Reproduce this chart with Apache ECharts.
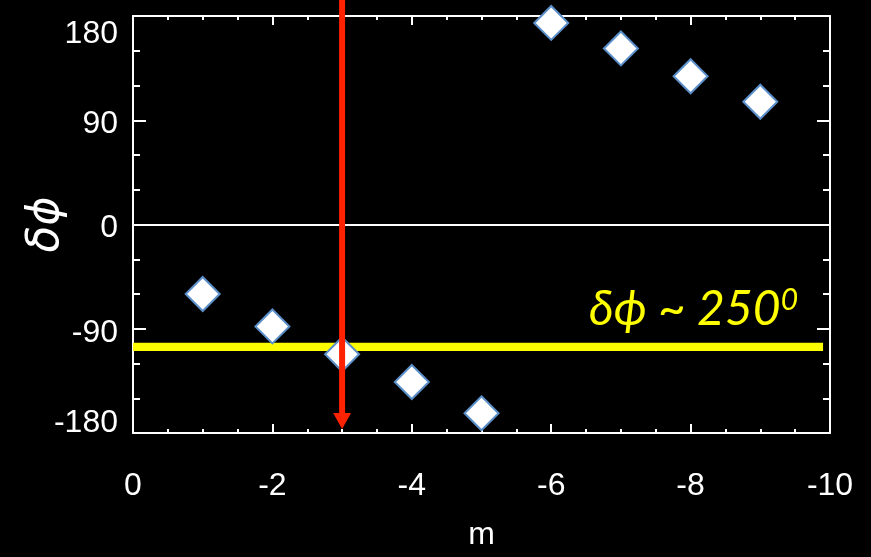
<!DOCTYPE html>
<html><head><meta charset="utf-8">
<script src="https://cdn.jsdelivr.net/npm/echarts@6/dist/echarts.min.js"></script>
<style>html,body{margin:0;padding:0;background:#000}#c{width:871px;height:557px}</style>
</head><body><div id="c"></div>
<script>
// Data
const mValues = [-1, -2, -3, -4, -5, -6, -7, -8, -9];
const dPhiValues = [-60, -88, -112, -136, -163, 174, 152, 128, 106];
const xTickLabels = ['0', '-2', '-4', '-6', '-8', '-10'];
const yTickLabels = ['-180', '-90', '0', '90', '180'];
const refPhase = -105.5;       // yellow reference line (δϕ ~ 250°)
const refLineM = [0, -9.9];    // extent of yellow line in m
const arrowM = -3;             // red arrow position
const arrowFrom = 196;         // red arrow top (value)
const arrowTo = -176.5;        // red arrow tip (value)

const chart = echarts.init(document.getElementById('c'), null, {renderer: 'canvas'});
const FONT = 'Liberation Sans';
const FS = 32;
const WHITE = '#ffffff';

const pts = mValues.map((m, i) => [m, dPhiValues[i]]);

function axisBase(extra) {
  return Object.assign({
    axisLine: {show: true, onZero: false, lineStyle: {color: WHITE, width: 2}},
    splitLine: {show: false},
  }, extra);
}

const option = {
  backgroundColor: '#000000',
  animation: false,
  grid: {left: 133, right: 41, top: 16, bottom: 124, containLabel: false, outerBoundsMode: 'none'},
  xAxis: [
    axisBase({
      type: 'value', min: -10, max: 0, interval: 2, inverse: true, position: 'bottom',
      name: 'm', nameLocation: 'middle', nameGap: 86, nameMoveOverlap: false,
      nameTextStyle: {color: WHITE, fontFamily: FONT, fontSize: 32},
      axisTick: {show: true, inside: true, length: 9, lineStyle: {color: WHITE, width: 2}},
      minorTick: {show: true, splitNumber: 4, length: 4, lineStyle: {color: WHITE, width: 2}},
      axisLabel: {show: true, color: WHITE, fontFamily: FONT, fontSize: FS, margin: 37,
        formatter: v => xTickLabels.find(t => Number(t) === v) || ''}
    }),
    axisBase({
      type: 'value', min: -10, max: 0, interval: 2, inverse: true, position: 'top',
      axisTick: {show: true, inside: true, length: 9, lineStyle: {color: WHITE, width: 2}},
      minorTick: {show: true, splitNumber: 4, length: 4, lineStyle: {color: WHITE, width: 2}},
      axisLabel: {show: false}
    })
  ],
  yAxis: [
    axisBase({
      type: 'value', min: -180, max: 180, interval: 90, position: 'left',
      name: 'δϕ', nameLocation: 'middle', nameGap: 64, nameRotate: 90, nameMoveOverlap: false,
      nameTextStyle: {color: WHITE, fontFamily: 'DejaVu Sans', fontStyle: 'italic', fontSize: 44},
      axisTick: {show: true, inside: true, length: 13, lineStyle: {color: WHITE, width: 2}},
      minorTick: {show: true, splitNumber: 3, length: 7, lineStyle: {color: WHITE, width: 2}},
      axisLabel: {show: true, color: WHITE, fontFamily: FONT, fontSize: FS, margin: 15,
        formatter: v => {
          const t = yTickLabels.find(s => Number(s) === v);
          if (t === undefined) return '';
          if (v === 180) return '{top|' + t + '}';
          if (v === -180) return '{bot|' + t + '}';
          return '{mid|' + t + '}';
        },
        rich: {
          top: {color: WHITE, fontFamily: FONT, fontSize: FS, padding: [36, 0, 0, 0]},
          bot: {color: WHITE, fontFamily: FONT, fontSize: FS, padding: [0, 0, 20, 0]},
          mid: {color: WHITE, fontFamily: FONT, fontSize: FS, padding: [8, 0, 0, 0]}
        }
      }
    }),
    axisBase({
      type: 'value', min: -180, max: 180, interval: 90, position: 'right',
      axisTick: {show: true, inside: true, length: 13, lineStyle: {color: WHITE, width: 2}},
      minorTick: {show: true, splitNumber: 3, length: 7, lineStyle: {color: WHITE, width: 2}},
      axisLabel: {show: false}
    })
  ],
  series: [
    {
      name: 'ref', type: 'line', xAxisIndex: 0, yAxisIndex: 0, z: 2,
      data: refLineM.map(m => [m, refPhase]),
      symbol: 'none', lineStyle: {color: '#ffff00', width: 8},
      markLine: {
        silent: true, symbol: 'none', z: 2,
        lineStyle: {color: '#ffff00', width: 8, type: 'solid'},
        data: [[{coord: [refLineM[0], refPhase]}, {coord: [refLineM[1], refPhase]}]],
        label: {
          show: true, position: 'insideEndTop', distance: [25, 13],
          color: '#ffff00', fontFamily: 'Lato', fontStyle: 'italic', fontSize: 48,
          formatter: '{a|δϕ ~ 250}{s|0}',
          rich: {
            a: {color: '#ffff00', fontFamily: 'Lato', fontStyle: 'italic', fontSize: 48},
            s: {color: '#ffff00', fontFamily: 'Lato', fontStyle: 'italic', fontSize: 30, verticalAlign: 'top', padding: [0, 0, 18, 0]}
          }
        }
      }
    },
    {
      name: 'dphi', type: 'scatter', xAxisIndex: 0, yAxisIndex: 0, z: 3,
      data: pts, symbol: 'diamond', symbolSize: 34,
      itemStyle: {color: '#ffffff', borderColor: '#5b8fc9', borderWidth: 2, opacity: 1},
      markLine: {
        silent: true, symbol: 'none', z: 1,
        lineStyle: {color: WHITE, width: 2, type: 'solid'},
        label: {show: false},
        data: [{yAxis: 0}]
      }
    },
    {
      name: 'arrow', type: 'custom', xAxisIndex: 0, yAxisIndex: 0, z: 4, clip: false,
      data: [[arrowM, arrowFrom, arrowTo]],
      encode: {x: 0, y: [1, 2]},
      renderItem: (params, api) => {
        const top = api.coord([api.value(0), api.value(1)]);
        const tip = api.coord([api.value(0), api.value(2)]);
        const ah = 16, aw = 9;
        return {
          type: 'group',
          children: [
            {type: 'line', shape: {x1: top[0], y1: top[1], x2: tip[0], y2: tip[1] - ah + 1},
              style: {stroke: '#ff2200', lineWidth: 6}},
            {type: 'polygon', shape: {points: [[tip[0] - aw, tip[1] - ah], [tip[0] + aw, tip[1] - ah], [tip[0], tip[1]]]},
              style: {fill: '#ff2200'}}
          ]
        };
      }
    }
  ]
};
chart.setOption(option);
</script>
</body></html>
